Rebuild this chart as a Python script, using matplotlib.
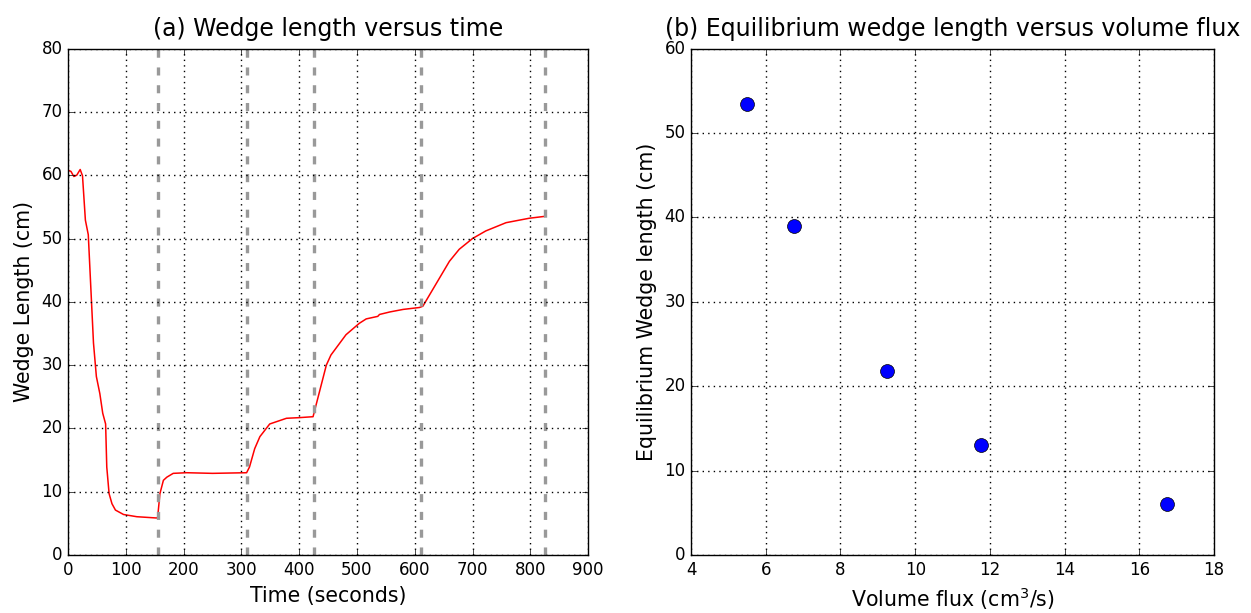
import matplotlib
matplotlib.use("Agg")
import matplotlib.pyplot as plt
import numpy as np

plt.style.use('classic')
plt.rcParams['font.family'] = ['DejaVu Sans']
plt.rcParams['mathtext.default'] = 'regular'

# wedge length vs time
time_s = [0, 5, 10, 15, 21, 25, 30, 35, 44, 49, 55, 60, 65, 67, 71, 76, 82, 96, 119,
          153, 155, 159, 165, 171, 182, 205, 250, 309, 314, 323, 332, 349, 378, 400,
          424, 447, 455, 481, 504, 516, 536, 539, 557, 580, 608, 614, 660, 677, 700,
          723, 758, 798, 825]
wedge_len = [60.8, 60.6, 59.8, 60.0, 60.9, 59.9, 52.9, 50.6, 33.5, 28.2, 25.5, 22.4,
             20.7, 13.9, 9.7, 8.1, 7.1, 6.4, 6.05, 5.85, 5.9, 9.7, 11.8, 12.3, 12.9,
             13.0, 12.9, 13.0, 13.9, 16.8, 18.7, 20.7, 21.6, 21.7, 21.85, 30.0, 31.6,
             34.8, 36.6, 37.3, 37.7, 38.0, 38.4, 38.8, 39.1, 39.3, 46.4, 48.3, 50.0,
             51.2, 52.5, 53.2, 53.5]
switch_times = [155, 310, 425, 610, 825]

# equilibrium length vs flux
flux = [5.5, 6.75, 9.25, 11.75, 16.75]
eq_len = [53.4, 39.0, 21.8, 13.0, 6.0]

fig = plt.figure(figsize=(12.51, 6.13), dpi=100, facecolor='white')
ax1 = fig.add_axes([0.0544, 0.0946, 0.4157, 0.8261])
ax2 = fig.add_axes([0.5524, 0.0946, 0.4181, 0.8261])

ax1.plot(time_s, wedge_len, color='red', lw=1.1)
for t in switch_times:
    ax1.axvline(t, color='0.6', ls='--', lw=2.4, dashes=(5.8, 7.0))
ax1.set_xlim(0, 900)
ax1.set_ylim(0, 80)
ax1.set_title('(a) Wedge length versus time', fontsize=17, pad=9)
ax1.set_xlabel('Time (seconds)', fontsize=14.8)
ax1.set_ylabel('Wedge Length (cm)', fontsize=14.8)

ax2.plot(flux, eq_len, 'o', color='blue', markeredgecolor='black', markersize=10)
ax2.set_xlim(4, 18)
ax2.set_ylim(0, 60)
ax2.set_title('(b) Equilibrium wedge length versus volume flux', fontsize=17, pad=9)
ax2.set_xlabel('Volume flux (cm$^3$/s)', fontsize=14.8)
ax2.set_ylabel('Equilibrium Wedge length (cm)', fontsize=14.8)

for ax in (ax1, ax2):
    ax.grid(True, color='black', linestyle=(0, (1, 3)), lw=1)
    ax.tick_params(labelsize=12)

fig.savefig('out.png', dpi=100, facecolor='white')
